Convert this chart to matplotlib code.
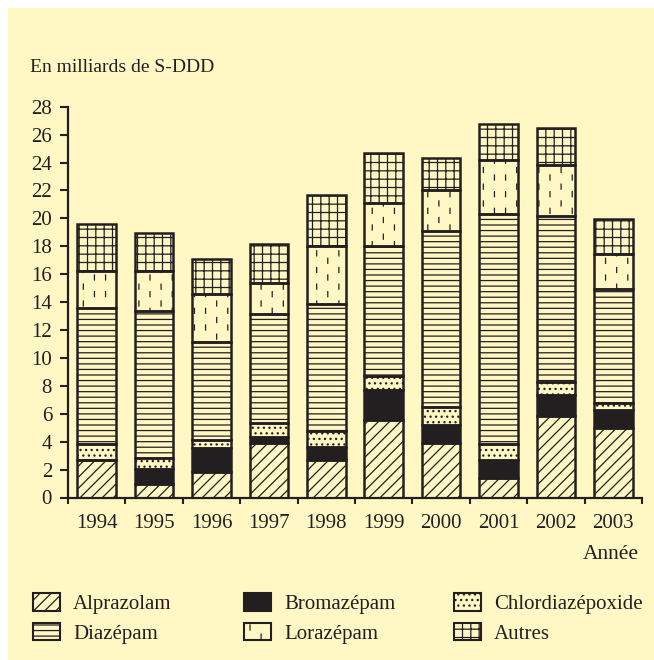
import numpy as np
import matplotlib
matplotlib.use('Agg')
import matplotlib.pyplot as plt
import matplotlib.hatch as mhatch
from matplotlib.path import Path
from matplotlib.patches import Patch, Rectangle

years = ['1994', '1995', '1996', '1997', '1998', '1999', '2000', '2001', '2002', '2003']
alprazolam = [2.7, 1.0, 1.85, 3.9, 2.7, 5.55, 3.9, 1.4, 5.85, 4.95]
bromazepam = [0.0, 1.05, 1.7, 0.45, 0.95, 2.15, 1.3, 1.3, 1.5, 1.3]
chlordiazepoxide = [1.1, 0.8, 0.55, 1.0, 1.15, 1.0, 1.25, 1.1, 0.9, 0.5]
diazepam = [9.8, 10.5, 7.05, 7.8, 9.05, 9.3, 12.65, 16.5, 11.95, 8.2]
lorazepam = [2.65, 2.85, 3.4, 2.25, 4.2, 3.1, 2.9, 3.9, 3.6, 2.5]
autres = [3.35, 2.75, 2.55, 2.75, 3.6, 3.6, 2.3, 2.55, 2.65, 2.5]

ink = '#231f20'
bg = '#fff8c5'


# short vertical dashes for Lorazepam, takes the place of the '*' hatch
class DashHatch(mhatch.HatchPatternBase):
    def __init__(self, hatch, density):
        n = hatch.count('*')
        self.cols = 9 * n
        self.rows = 6 * n
        self.num_vertices = 2 * self.cols * self.rows

    def set_vertices_and_codes(self, vertices, codes):
        k = 0
        for i in range(self.cols):
            x = (i + 0.5) / self.cols
            shift = 0.45 if i % 2 else 0.0
            for j in range(self.rows):
                y = ((j + 0.2 + shift) / self.rows) % 1.0
                y = min(y, 0.94)
                vertices[k] = (x, y)
                vertices[k + 1] = (x, y + 0.05)
                codes[k] = Path.MOVETO
                codes[k + 1] = Path.LINETO
                k += 2


mhatch._hatch_types[:] = [h for h in mhatch._hatch_types if h.__name__ != 'Stars'] + [DashHatch]

plt.rcParams['font.family'] = ['Liberation Serif', 'DejaVu Serif']
plt.rcParams['hatch.linewidth'] = 0.9
plt.rcParams['text.color'] = ink

fig = plt.figure(figsize=(6.54, 6.60), dpi=100, facecolor='white')
fig.patches.append(Rectangle((8 / 654, 0), 1, 1 - 8 / 660, transform=fig.transFigure,
                             facecolor=bg, edgecolor='none', zorder=-10))

ax = fig.add_axes([68 / 654, 162.5 / 660, 574 / 654, 390.8 / 660])
ax.set_facecolor('none')

series = [
    ('Alprazolam', alprazolam, 'none', '///'),
    ('Bromazépam', bromazepam, ink, None),
    ('Chlordiazépoxide', chlordiazepoxide, 'none', '...'),
    ('Diazépam', diazepam, 'none', '---'),
    ('Lorazépam', lorazepam, 'none', '*'),
    ('Autres', autres, 'none', '++'),
]

x = np.arange(len(years))
bottom = np.zeros(len(years))
handles = []
for name, vals, fc, hatch in series:
    vals = np.array(vals)
    ax.bar(x, vals, 0.67, bottom=bottom, facecolor=fc, edgecolor=ink,
           hatch=hatch, linewidth=1.8, zorder=3)
    bottom += vals
    handles.append(Patch(facecolor=fc, edgecolor=ink, hatch=hatch, linewidth=1.5, label=name))

ax.set_xlim(-0.5, len(years) - 0.5)
ax.set_ylim(0, 28)
ax.set_yticks(np.arange(0, 29, 2))
ax.set_xticks(x)
ax.set_xticklabels(years)
ax.set_xticks(np.arange(-0.5, len(years)), minor=True)
for s in ['top', 'right']:
    ax.spines[s].set_visible(False)
for s in ['left', 'bottom']:
    ax.spines[s].set_linewidth(1.6)
    ax.spines[s].set_color(ink)
ax.tick_params(axis='y', length=5.5, width=1.5, color=ink, labelsize=15, pad=6, labelcolor=ink)
ax.tick_params(axis='x', which='major', length=0, labelsize=15, pad=12, labelcolor=ink)
ax.tick_params(axis='x', which='minor', length=4.5, width=1.5, color=ink)

fig.text(30 / 654, 1 - 72 / 660, 'En milliards de S-DDD', fontsize=14, va='baseline', ha='left')
fig.text(639 / 654, 1 - 559 / 660, 'Année', fontsize=15.5, va='baseline', ha='right')

# legend: three columns of two entries
col_x = [33, 244, 454]
for c in range(3):
    leg = fig.legend(handles=[handles[c], handles[c + 3]], loc='upper left',
                     bbox_to_anchor=(col_x[c] / 654, 1 - 593 / 660), frameon=False,
                     fontsize=15, handlelength=1.3, handleheight=0.92,
                     handletextpad=0.62, labelspacing=0.42, borderpad=0, borderaxespad=0)

fig.savefig('out.png', dpi=100, facecolor=fig.get_facecolor())
